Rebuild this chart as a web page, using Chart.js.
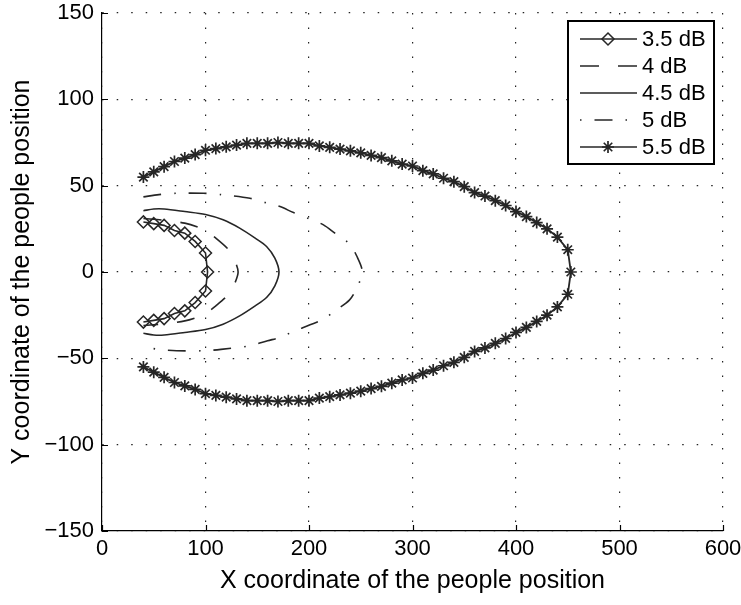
<!DOCTYPE html>
<html>
<head>
<meta charset="utf-8">
<script src="https://cdn.jsdelivr.net/npm/chart.js@4/dist/chart.umd.min.js"></script>
<style>
  html, body { margin: 0; padding: 0; background: #fff; }
  #wrap { width: 741px; height: 605px; }
</style>
</head>
<body>
<div id="wrap"><canvas id="myChart" width="741" height="605"></canvas></div>
<script>
// values (x, y along each closed contour)
const x35 = [40, 50, 60, 70, 80, 90, 100, 102, 100, 90, 80, 70, 60, 50, 40];
const y35 = [29, 28, 27, 24, 22.5, 17.7, 11, 0, -11, -17.7, -22.5, -24, -27, -28, -29];

const x40 = [40, 60, 80, 93, 100, 110, 123, 128, 131.5, 128, 123, 110, 100, 93, 80, 60, 40];
const y40 = [31, 30, 28.3, 26, 24, 19.6, 12.5, 7, 0, -7, -12.5, -19.6, -24, -26, -28.3, -30, -31];

const x45 = [40, 50, 60, 80, 100, 117, 133, 148, 159, 167, 171, 167, 159, 148, 133, 117, 100, 80, 60, 50, 40];
const y45 = [35.5, 36.5, 36.5, 35, 33.3, 30.2, 25.4, 19.6, 14.8, 8, 0, -8, -14.8, -19.6, -25.4, -30.2, -33.3, -35, -36.5, -36.5, -35.5];

const x50 = [40, 55, 72, 98, 115, 143, 160, 172, 185, 201, 214, 225, 239, 246, 251.5,
             246, 239, 225, 214, 201, 185, 172, 160, 143, 115, 98, 72, 55, 40];
const y50 = [43.5, 44.8, 45.6, 45.6, 44.8, 42.7, 39.8, 37.9, 34.4, 30.6, 27.3, 22.5, 16.3, 9.4, 0,
             -9.4, -16.3, -22.5, -27.3, -30.6, -34.4, -37.9, -39.8, -42.7, -44.8, -45.6, -45.6, -44.8, -43.5];

const x55 = [40, 50, 60, 70, 80, 90, 100, 110, 120, 130, 140, 150, 160, 170, 180, 190, 200, 210, 220, 230,
             240, 250, 260, 270, 280, 290, 300, 310, 320, 330, 340, 350, 360, 370, 380, 390, 400, 410, 420,
             430, 440, 450, 453,
             450, 440, 430, 420, 410, 400, 390, 380, 370, 360, 350, 340, 330, 320, 310, 300, 290, 280, 270,
             260, 250, 240, 230, 220, 210, 200, 190, 180, 170, 160, 150, 140, 130, 120, 110, 100, 90, 80,
             70, 60, 50, 40];
const y55 = [55, 58, 61, 64, 66, 68, 70.5, 71.5, 72.5, 73.5, 74.5, 74.5, 74.5, 75, 74.5, 74.5, 74.5, 73, 72.2, 71.2,
             70.2, 69, 67.5, 66.2, 64.4, 62.5, 61.4, 58.7, 56.8, 54.3, 52.3, 49.4, 46, 44, 41.3, 38.5, 35, 32.1, 28.6,
             25, 20.2, 12.9, 0,
             -12.9, -20.2, -25, -28.6, -32.1, -35, -38.5, -41.3, -44, -46, -49.4, -52.3, -54.3, -56.8, -58.7, -61.4, -62.5, -64.4, -66.2,
             -67.5, -69, -70.2, -71.2, -72.2, -73, -74.5, -74.5, -74.5, -75, -74.5, -74.5, -74.5, -73.5, -72.5, -71.5, -70.5, -68, -66,
             -64, -61, -58, -55];

const seriesNames = ['3.5 dB', '4 dB', '4.5 dB', '5 dB', '5.5 dB'];
const xTicks = [0, 100, 200, 300, 400, 500, 600];
const yTicks = [-150, -100, -50, 0, 50, 100, 150];

const ink = '#262626';
const font = 'Liberation Sans, Arial, Helvetica, sans-serif';

function pts(xs, ys) {
    return xs.map(function (x, i) { return { x: x, y: ys[i] }; });
}

const data = {
    datasets: [{
        label: seriesNames[0],
        data: pts(x35, y35),
        borderColor: ink, borderWidth: 1.6, tension: 0,
        pointStyle: 'rectRot', pointRadius: 6, pointBorderWidth: 1.5,
        pointBorderColor: ink, pointBackgroundColor: 'rgba(0,0,0,0)'
    }, {
        label: seriesNames[1],
        data: pts(x40, y40),
        borderColor: ink, borderWidth: 1.6, tension: 0.3,
        borderDash: [18, 19],
        pointRadius: 0
    }, {
        label: seriesNames[2],
        data: pts(x45, y45),
        borderColor: ink, borderWidth: 1.6, tension: 0.3,
        pointRadius: 0
    }, {
        label: seriesNames[3],
        data: pts(x50, y50),
        borderColor: ink, borderWidth: 1.6, tension: 0.3,
        borderDash: [18, 13, 1.5, 13],
        pointRadius: 0
    }, {
        label: seriesNames[4],
        data: pts(x55, y55),
        borderColor: ink, borderWidth: 1.8, tension: 0,
        pointStyle: 'star', pointRadius: 6, pointBorderWidth: 1.7,
        pointBorderColor: ink, pointBackgroundColor: 'rgba(0,0,0,0)'
    }]
};

// inward tick marks like the original axes
const innerTicks = {
    id: 'innerTicks',
    afterDraw: function (chart) {
        const ctx = chart.ctx, xs = chart.scales.x, ys = chart.scales.y;
        const a = chart.chartArea;
        ctx.save();
        ctx.strokeStyle = '#000';
        ctx.lineWidth = 1.2;
        ctx.beginPath();
        xTicks.forEach(function (v) {
            const p = Math.round(xs.getPixelForValue(v)) + 0.5;
            ctx.moveTo(p, a.bottom);
            ctx.lineTo(p, a.bottom - 6);
        });
        yTicks.forEach(function (v) {
            const p = Math.round(ys.getPixelForValue(v)) + 0.5;
            ctx.moveTo(a.left, p);
            ctx.lineTo(a.left + 6, p);
        });
        ctx.stroke();
        ctx.restore();
    }
};

// boxed legend with line samples
const boxLegend = {
    id: 'boxLegend',
    afterDraw: function (chart) {
        const ctx = chart.ctx;
        const left = 568, top = 21, w = 146, h = 143, rowH = 27;
        ctx.save();
        ctx.fillStyle = '#fff';
        ctx.fillRect(left, top, w, h);
        ctx.strokeStyle = '#000';
        ctx.lineWidth = 2;
        ctx.strokeRect(left, top, w, h);
        chart.data.datasets.forEach(function (ds, i) {
            const y = top + 18 + i * rowH;
            ctx.save();
            ctx.strokeStyle = ds.borderColor;
            ctx.lineWidth = 1.6;
            ctx.setLineDash(ds.borderDash ? (i === 3 ? [1.5, 13, 18, 13] : [19, 19]) : []);
            ctx.beginPath();
            ctx.moveTo(580, y);
            ctx.lineTo(637, y);
            ctx.stroke();
            ctx.restore();
            if (ds.pointRadius > 0) {
                ctx.save();
                ctx.strokeStyle = ds.pointBorderColor;
                ctx.fillStyle = 'rgba(0,0,0,0)';
                ctx.lineWidth = ds.pointBorderWidth;
                Chart.helpers.drawPoint(ctx, {
                    pointStyle: ds.pointStyle, radius: ds.pointRadius,
                    rotation: 0, borderWidth: ds.pointBorderWidth
                }, 608, y);
                ctx.restore();
            }
            ctx.fillStyle = '#000';
            ctx.font = '22px ' + font;
            ctx.textBaseline = 'middle';
            ctx.fillText(ds.label, 642, y + 1);
        });
        ctx.restore();
    }
};

const config = {
    type: 'scatter',
    data: data,
    options: {
        responsive: false,
        animation: false,
        showLine: true,
        layout: { padding: { left: 0, right: 18, top: 13, bottom: 0 } },
        plugins: {
            legend: { display: false },
            tooltip: { enabled: false }
        },
        scales: {
            x: {
                type: 'linear', min: 0, max: 600,
                afterFit: function (s) { s.height = 74; s.paddingLeft = 0; s.paddingRight = 0; },
                afterBuildTicks: function (s) { s.ticks = xTicks.map(function (v) { return { value: v }; }); },
                ticks: { color: '#000', font: { family: font, size: 22 }, padding: 5, maxRotation: 0 },
                grid: { color: '#222', lineWidth: 1.2, drawTicks: false },
                border: { display: true, color: '#000', width: 1.2, dash: [1.5, 13] },
                title: { display: true, text: 'X coordinate of the people position', color: '#000',
                         font: { family: font, size: 25 }, padding: 9 }
            },
            y: {
                type: 'linear', min: -150, max: 150,
                afterFit: function (s) { s.width = 102; s.paddingTop = 0; s.paddingBottom = 0; },
                afterBuildTicks: function (s) { s.ticks = yTicks.map(function (v) { return { value: v }; }); },
                ticks: { color: '#000', font: { family: font, size: 22 }, padding: 8,
                         callback: function (v) { return String(v).replace('-', '\u2212'); } },
                grid: { color: '#222', lineWidth: 1.2, drawTicks: false },
                border: { display: true, color: '#000', width: 1.2, dash: [1.5, 13] },
                title: { display: true, text: 'Y coordinate of the people position', color: '#000',
                         font: { family: font, size: 25 }, padding: 7 }
            }
        }
    },
    plugins: [innerTicks, boxLegend]
};

var ctx = document.getElementById('myChart').getContext('2d');
var myNewChart = new Chart(ctx, config);
</script>
</body>
</html>
